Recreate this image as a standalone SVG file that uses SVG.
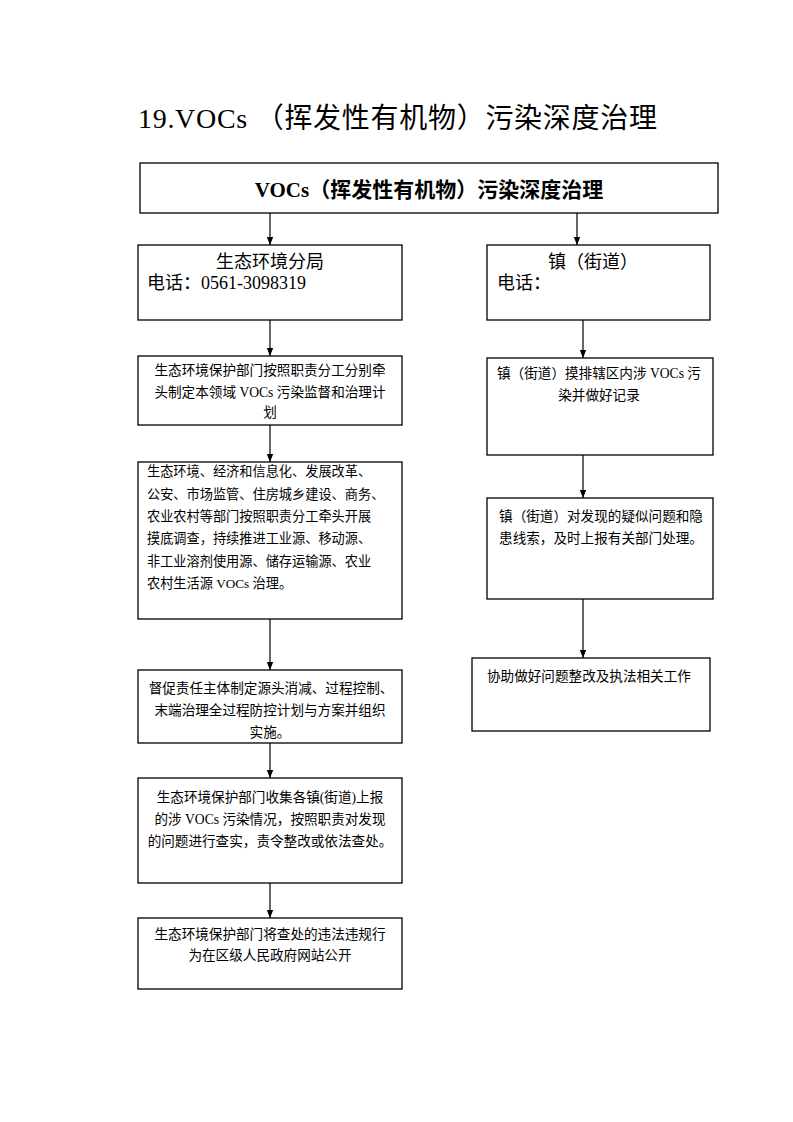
<svg xmlns="http://www.w3.org/2000/svg" width="793" height="1122" viewBox="0 0 793 1122">
<style>
text{font-family:"Liberation Serif","Noto Sans CJK SC",serif;fill:#000}
.box{fill:#fff;stroke:#000;stroke-width:1.3}
.t{font-size:13.6px}
.s{font-size:13.2px}
.m{text-anchor:middle}
.c{stroke:#000;stroke-width:1.2;fill:none}
</style>
<defs>
<marker id="a" markerWidth="8" markerHeight="10" refX="10" refY="4" orient="auto" markerUnits="userSpaceOnUse" viewBox="0 0 10 8">
<path d="M0,0 L10,4 L0,8 Z" fill="#000"/>
</marker>
</defs>
<rect width="793" height="1122" fill="#fff"/>
<text x="138" y="128" font-size="28" textLength="519" lengthAdjust="spacing">19.VOCs （挥发性有机物）污染深度治理</text>

<g id="connectors">
<line class="c" x1="270" y1="213" x2="270" y2="245" marker-end="url(#a)"/>
<line class="c" x1="577" y1="213" x2="577" y2="245" marker-end="url(#a)"/>
<line class="c" x1="270" y1="320" x2="270" y2="356" marker-end="url(#a)"/>
<line class="c" x1="270" y1="425" x2="270" y2="462" marker-end="url(#a)"/>
<line class="c" x1="270" y1="619" x2="270" y2="670" marker-end="url(#a)"/>
<line class="c" x1="270" y1="743" x2="270" y2="778" marker-end="url(#a)"/>
<line class="c" x1="270" y1="883" x2="270" y2="918" marker-end="url(#a)"/>
<line class="c" x1="583" y1="320" x2="583" y2="358" marker-end="url(#a)"/>
<line class="c" x1="583" y1="455" x2="583" y2="498" marker-end="url(#a)"/>
<line class="c" x1="583" y1="599" x2="583" y2="658" marker-end="url(#a)"/>
</g>

<g id="top">
<rect class="box" x="140" y="163" width="578" height="50"/>
<text x="429" y="197" font-size="21" font-weight="bold" class="m">VOCs（挥发性有机物）污染深度治理</text>
</g>

<g id="bureau">
<rect class="box" x="138" y="245" width="264" height="75"/>
<text x="270" y="268" font-size="18" class="m">生态环境分局</text>
<text x="147" y="289" font-size="18">电话：0561-3098319</text>
</g>

<g id="town">
<rect class="box" x="487" y="245" width="223" height="75"/>
<text x="593" y="268" font-size="18" class="m">镇（街道）</text>
<text x="497" y="289" font-size="18">电话：</text>
</g>

<g id="l1">
<rect class="box" x="138" y="356" width="264" height="69"/>
<text class="t m" x="270" y="375">生态环境保护部门按照职责分工分别牵</text>
<text class="t m" x="270" y="397">头制定本领域 VOCs 污染监督和治理计</text>
<text class="t m" x="270" y="417">划</text>
</g>

<g id="l2">
<rect class="box" x="138" y="462" width="264" height="157"/>
<text class="s" x="147" y="476">生态环境、经济和信息化、发展改革、</text>
<text class="s" x="147" y="499">公安、市场监管、住房城乡建设、商务、</text>
<text class="s" x="147" y="521">农业农村等部门按照职责分工牵头开展</text>
<text class="s" x="147" y="543">摸底调查，持续推进工业源、移动源、</text>
<text class="s" x="147" y="566">非工业溶剂使用源、储存运输源、农业</text>
<text class="s" x="147" y="588">农村生活源 VOCs 治理。</text>
</g>

<g id="l3">
<rect class="box" x="138" y="670" width="264" height="73"/>
<text class="t m" x="271" y="693">督促责任主体制定源头消减、过程控制、</text>
<text class="t m" x="270" y="715">末端治理全过程防控计划与方案并组织</text>
<text class="t m" x="270" y="737">实施。</text>
</g>

<g id="l4">
<rect class="box" x="138" y="778" width="264" height="105"/>
<text class="t m" x="270" y="802">生态环境保护部门收集各镇(街道)上报</text>
<text class="t m" x="270" y="824">的涉 VOCs 污染情况，按照职责对发现</text>
<text class="t m" x="270" y="846">的问题进行查实，责令整改或依法查处。</text>
</g>

<g id="l5">
<rect class="box" x="138" y="918" width="264" height="71"/>
<text class="t m" x="270" y="939">生态环境保护部门将查处的违法违规行</text>
<text class="t m" x="270" y="960">为在区级人民政府网站公开</text>
</g>

<g id="r1">
<rect class="box" x="487" y="358" width="226" height="97"/>
<text class="t m" x="599" y="378">镇（街道）摸排辖区内涉 VOCs 污</text>
<text class="t m" x="599" y="400">染并做好记录</text>
</g>

<g id="r2">
<rect class="box" x="487" y="498" width="226" height="101"/>
<text class="t m" x="601" y="521">镇（街道）对发现的疑似问题和隐</text>
<text class="t m" x="601" y="543">患线索，及时上报有关部门处理。</text>
</g>

<g id="r3">
<rect class="box" x="472" y="658" width="238" height="73"/>
<text class="t" x="487" y="681">协助做好问题整改及执法相关工作</text>
</g>
</svg>
